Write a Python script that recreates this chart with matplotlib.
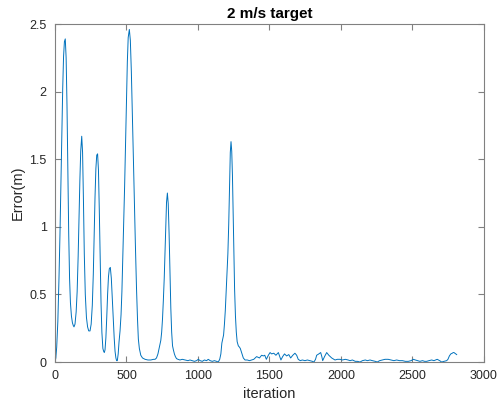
import matplotlib
matplotlib.use("Agg")
import matplotlib.pyplot as plt
from matplotlib.ticker import FuncFormatter

title = "2 m/s target"
x_label = "iteration"
y_label = "Error(m)"
x_ticks = [0, 500, 1000, 1500, 2000, 2500, 3000]
y_ticks = [0, 0.5, 1, 1.5, 2, 2.5]

iteration = [
    0, 6, 12, 20, 28, 35, 42, 48, 54, 60, 66, 72, 78, 84, 90, 96, 102, 108, 115, 122, 128, 133,
    140, 148, 155, 162, 168, 174, 180, 187, 193, 199, 205, 212, 220, 228, 236, 245,
    253, 261, 268, 274, 280, 286, 292, 298, 304, 310, 316, 322, 328, 335, 340, 345,
    350, 356, 362, 368, 374, 380, 387, 394, 401, 408, 414, 420, 426, 431, 436,
    442, 448, 455, 462, 468, 474, 480, 487, 494, 500, 506, 512, 520, 527, 534, 541, 548, 555, 562, 570,
    577, 583, 590, 600, 612, 630, 650, 670, 690, 700,
    710, 720, 728, 734, 740, 746, 752, 758, 764, 769, 774, 780, 786, 792, 798, 804, 810, 816, 822,
    828, 835, 842, 850,
    860, 874, 890, 910, 930, 944, 960, 975, 990, 1002, 1015, 1030, 1045, 1060, 1072, 1085, 1100,
    1115, 1130, 1142,
    1152, 1160, 1167, 1173, 1179, 1185, 1191, 1197, 1203, 1209, 1215, 1221, 1226, 1231, 1236, 1241,
    1246, 1251, 1256, 1262, 1268, 1274, 1282, 1290, 1296, 1305, 1317, 1329,
    1345, 1360, 1375, 1390, 1410, 1430, 1445, 1457, 1467, 1478, 1492, 1504, 1515, 1530, 1545, 1562,
    1572, 1580, 1592, 1605, 1620, 1635, 1648, 1663, 1678, 1690, 1701, 1715, 1730, 1748,
    1765, 1783, 1800, 1811, 1822, 1830, 1845, 1858, 1866, 1872, 1885, 1900, 1915, 1935, 1958, 1975,
    1993, 2010, 2030, 2050,
    2063, 2080, 2100, 2115, 2133, 2150, 2170, 2185, 2203, 2220, 2240, 2254, 2270, 2290, 2308, 2330,
    2350, 2370, 2389, 2410,
    2430, 2450, 2471, 2490, 2506, 2520, 2537, 2552, 2570, 2585, 2599, 2615, 2634, 2650, 2673, 2690,
    2704, 2720, 2739, 2748,
    2758, 2768, 2778, 2785, 2790, 2796, 2803, 2809,
]

error = [
    0.00, 0.03, 0.11, 0.30, 0.62, 0.95, 1.35, 1.70, 2.02, 2.26, 2.37, 2.39, 2.25, 1.90, 1.40, 0.95,
    0.62, 0.44, 0.34, 0.29, 0.27, 0.26,
    0.28, 0.37, 0.52, 0.78, 1.06, 1.34, 1.56, 1.67, 1.55, 1.20, 0.80, 0.50, 0.33, 0.26, 0.23, 0.23,
    0.28, 0.42, 0.65, 0.95, 1.22, 1.43, 1.53, 1.54, 1.42, 1.12, 0.76, 0.44, 0.22, 0.10, 0.08, 0.07,
    0.09, 0.18, 0.33, 0.50, 0.63, 0.69, 0.70, 0.62, 0.47, 0.32, 0.18, 0.08, 0.03, 0.01, 0.01,
    0.06, 0.15, 0.23, 0.35, 0.52, 0.76, 1.02, 1.30, 1.64, 1.96, 2.22, 2.40, 2.46, 2.38, 2.15, 1.85,
    1.52, 1.20, 0.88, 0.55,
    0.32, 0.17, 0.10, 0.05, 0.03, 0.02, 0.015, 0.015, 0.02, 0.02,
    0.03, 0.06, 0.10, 0.13, 0.16, 0.22, 0.32, 0.46, 0.62, 0.80, 1.00, 1.18, 1.25, 1.17, 0.95, 0.66,
    0.40, 0.22, 0.12, 0.09, 0.06, 0.04, 0.025,
    0.02, 0.015, 0.02, 0.015, 0.01, 0.015, 0.01, 0.005, 0.01, 0.02, 0.01, 0.005, 0.015, 0.01, 0.02,
    0.01, 0.005, 0.01, 0.005, 0.00,
    0.02, 0.06, 0.14, 0.17, 0.20, 0.28, 0.38, 0.52, 0.66, 0.80, 1.02, 1.32, 1.55, 1.63, 1.56, 1.38,
    1.10, 0.80, 0.54, 0.34, 0.22, 0.15, 0.12, 0.11, 0.10, 0.07, 0.03, 0.015,
    0.015, 0.01, 0.015, 0.02, 0.04, 0.03, 0.05, 0.045, 0.05, 0.02, 0.05, 0.07, 0.06, 0.065, 0.05,
    0.07, 0.04, 0.015, 0.04, 0.06, 0.045, 0.055, 0.03, 0.05, 0.065, 0.05, 0.02, 0.01, 0.015, 0.01,
    0.015, 0.01, 0.005, 0.00, 0.02, 0.05, 0.06, 0.07, 0.04, 0.01, 0.04, 0.07, 0.05, 0.03, 0.015,
    0.02, 0.02, 0.015, 0.02, 0.015,
    0.01, 0.015, 0.005, 0.005, 0.00, 0.01, 0.015, 0.01, 0.015, 0.01, 0.005, 0.00, 0.01, 0.015, 0.02,
    0.02, 0.015, 0.01, 0.015, 0.01,
    0.01, 0.005, 0.005, 0.01, 0.02, 0.015, 0.01, 0.005, 0.01, 0.005, 0.005, 0.01, 0.015, 0.01, 0.02,
    0.01, 0.00, 0.005, 0.01, 0.02,
    0.045, 0.06, 0.065, 0.07, 0.07, 0.065, 0.06, 0.055,
]

plt.rcParams['font.family'] = ['Liberation Sans', 'DejaVu Sans']

fig = plt.figure(figsize=(5.03, 4.08), dpi=100)
ax = fig.add_axes([0.1093, 0.1127, 0.8529, 0.8284])
ax.plot(iteration, error, color='#0072BD', lw=0.7)

ax.set_xlim(0, 3000)
ax.set_ylim(0, 2.5)
ax.set_xticks(x_ticks)
ax.set_yticks(y_ticks)
ax.yaxis.set_major_formatter(FuncFormatter(lambda v, p: ('%g' % v)))

axis_color = '#808080'
for s in ax.spines.values():
    s.set_color(axis_color)
    s.set_linewidth(0.8)
ax.tick_params(direction='in', length=4, width=0.8, color=axis_color,
               labelcolor='#262626', labelsize=9, top=True, right=True, pad=6)

ax.set_title(title, fontsize=11, fontweight='bold', color='black', pad=4)
ax.set_xlabel(x_label, fontsize=10.5, color='#262626', labelpad=3)
ax.set_ylabel(y_label, fontsize=10.5, color='#262626', labelpad=3)

fig.savefig('out.png', dpi=100)
